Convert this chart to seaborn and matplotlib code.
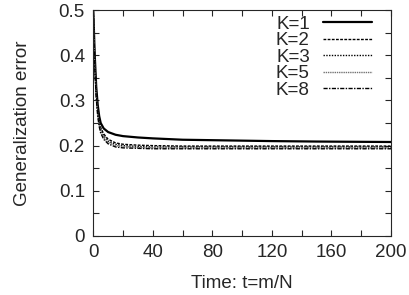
import numpy as np
import pandas as pd
import matplotlib
matplotlib.use("Agg")
import matplotlib.pyplot as plt
import seaborn as sns
from matplotlib.ticker import MultipleLocator

# values
t = [0, 1, 2, 3, 4, 5, 7, 10, 15, 20, 30, 40, 60, 80, 100, 120, 150, 200]
err_k1 = [0.5, 0.40, 0.33, 0.29, 0.265, 0.250, 0.238, 0.230, 0.224, 0.221, 0.218, 0.216, 0.213, 0.212, 0.211, 0.210, 0.209, 0.208]
err_k2 = [0.5, 0.39, 0.32, 0.28, 0.255, 0.240, 0.226, 0.214, 0.206, 0.203, 0.201, 0.200, 0.199, 0.199, 0.199, 0.199, 0.199, 0.199]
err_k3 = [0.5, 0.385, 0.315, 0.275, 0.250, 0.236, 0.222, 0.210, 0.203, 0.200, 0.198, 0.197, 0.197, 0.197, 0.197, 0.197, 0.197, 0.197]
err_k5 = [0.5, 0.38, 0.31, 0.27, 0.246, 0.232, 0.218, 0.207, 0.200, 0.198, 0.196, 0.195, 0.195, 0.195, 0.195, 0.195, 0.195, 0.195]
err_k8 = [0.5, 0.375, 0.305, 0.265, 0.242, 0.228, 0.214, 0.204, 0.197, 0.195, 0.194, 0.193, 0.193, 0.193, 0.193, 0.193, 0.193, 0.193]
labels = ["K=1", "K=2", "K=3", "K=5", "K=8"]

series = [err_k1, err_k2, err_k3, err_k5, err_k8]
df = pd.concat([pd.DataFrame({"t": t, "err": s, "K": lab}) for s, lab in zip(series, labels)])

sns.set_style("ticks")
plt.rcParams["font.family"] = ["Liberation Sans", "DejaVu Sans"]

fig = plt.figure(figsize=(4.09, 2.95), dpi=100)
ax = fig.add_axes([0.228, 0.2, 0.728, 0.766])

styles = {
    "K=1": dict(color="black", lw=1.6, ls="-"),
    "K=2": dict(color="black", lw=1.0, ls=(0, (2, 1))),
    "K=3": dict(color="black", lw=1.0, ls=(0, (1, 1))),
    "K=5": dict(color="0.45", lw=1.0, ls=(0, (1, 0.6))),
    "K=8": dict(color="black", lw=1.0, ls=(0, (3, 1, 1, 1))),
}
for lab in labels:
    sub = df[df["K"] == lab]
    sns.lineplot(data=sub, x="t", y="err", ax=ax, label=lab, **styles[lab])

fs = 13.5
ax.set_xlim(0, 200)
ax.set_ylim(0, 0.5)
ax.xaxis.set_minor_locator(MultipleLocator(20))
ax.yaxis.set_minor_locator(MultipleLocator(0.05))
ax.set_xticks([0, 40, 80, 120, 160, 200])
ax.set_xticklabels(["0", "40", "80", "120", "160", "200"])
ax.set_yticks([0, 0.1, 0.2, 0.3, 0.4, 0.5])
ax.set_yticklabels(["0", "0.1", "0.2", "0.3", "0.4", "0.5"])
ax.tick_params(which="both", direction="in", top=True, right=True, labelsize=fs, width=0.8)
ax.tick_params(which="major", length=4, pad=6)
ax.tick_params(which="minor", length=4)
for sp in ax.spines.values():
    sp.set_linewidth(0.8)

ax.set_xlabel("Time: t=m/N", fontsize=fs, labelpad=10)
ax.set_ylabel("Generalization error", fontsize=fs, labelpad=20)

ax.legend(loc="upper right", bbox_to_anchor=(0.935, 0.975), frameon=False, markerfirst=False,
          fontsize=fs, handlelength=2.6, labelspacing=-0.03, borderaxespad=0, borderpad=0,
          handletextpad=0.7)

fig.savefig("out.png", dpi=100)
